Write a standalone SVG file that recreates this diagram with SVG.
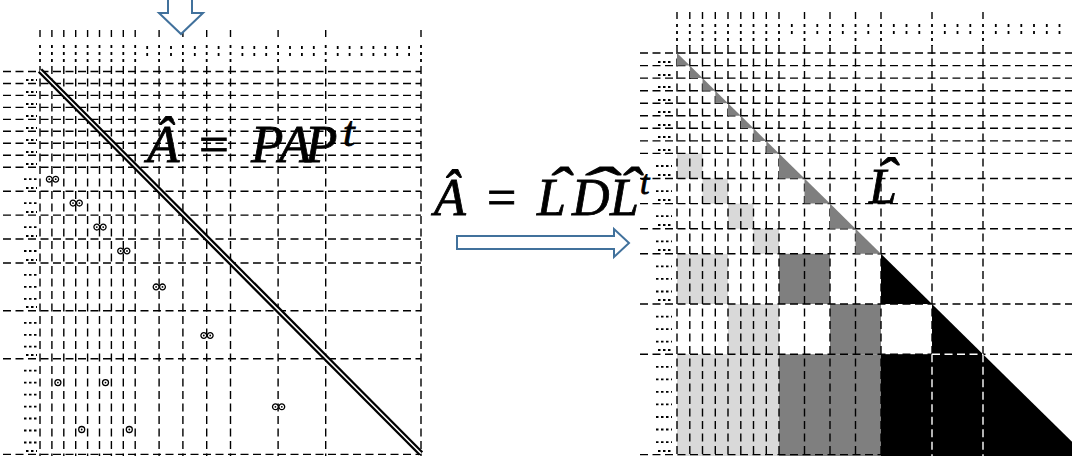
<svg xmlns="http://www.w3.org/2000/svg" width="1072" height="456" viewBox="0 0 1072 456">
<style>
.g{fill:none;stroke:#000;stroke-width:1.4;stroke-dasharray:8 4.5}
.gw{fill:none;stroke:#fff;stroke-width:1.4;stroke-dasharray:8 4.5}
.tk{fill:none;stroke:#000;stroke-width:1.4}
.dt{fill:none;stroke:#000;stroke-width:1.8;stroke-dasharray:3 4}
.dr{fill:none;stroke:#000;stroke-width:1.8;stroke-dasharray:2.5 2.5}
.m{font-family:"Liberation Serif","DejaVu Serif",serif;font-style:italic;fill:#000;stroke:#000;stroke-width:0.8}
.arr{fill:#fff;stroke:#41719c;stroke-width:2;stroke-linejoin:miter}
.lg{fill:#d9d9d9}
.dg{fill:#7f7f7f}
.bk{fill:#000}
</style>
<defs>
<g id="oo"><circle cx="-3.2" cy="0" r="2.9" fill="#fff" stroke="#000" stroke-width="1.3"/><circle cx="3.2" cy="0" r="2.9" fill="#fff" stroke="#000" stroke-width="1.3"/><circle cx="-3.2" cy="0" r="0.9"/><circle cx="3.2" cy="0" r="0.9"/></g>
<g id="o1"><circle cx="0" cy="0" r="3" fill="#fff" stroke="#000" stroke-width="1.3"/><circle cx="0" cy="0" r="0.9"/></g>
</defs>

<g id="left-matrix">
<path class="tk" d="M40 30V37M51.9 30V37M63.8 30V37M75.7 30V37M87.6 30V37M99.5 30V37M111.4 30V37M123.3 30V37M135.2 30V37M159.1 30V37M182.9 30V37M206.7 30V37M230.5 30V37M278.1 30V37M325.7 30V37M421 30V37"/>
<path class="dt" d="M40 45V63M51.9 45V63M63.8 45V63M75.7 45V63M87.6 45V63M99.5 45V63M111.4 45V63M123.3 45V63M135.2 45V63M159.1 45V63M182.9 45V63M206.7 45V63M230.5 45V63M278.1 45V63M325.7 45V63M421 45V63"/>
<path class="dt" d="M147.2 46V57M171 46V57M194.8 46V57M218.6 46V57M242.4 46V57M254.3 46V57M266.2 46V57M290 46V57M301.9 46V57M313.8 46V57M337.7 46V57M349.6 46V57M361.5 46V57M373.4 46V57M385.3 46V57M397.2 46V57M409.1 46V57"/>
<path class="dr" d="M24 179.2H37M24 203.1H37M24 227.1H37M24 251H37M24 274.9H37M24 286.9H37M24 298.9H37M24 322.8H37M24 334.8H37M24 346.7H37M24 370.7H37M24 382.6H37M24 394.6H37M24 406.6H37M24 418.5H37M24 430.5H37M24 442.5H37"/>
<path class="dr" d="M26 80H37M26 92H37M26 104H37M26 116H37M26 128H37M26 140H37M26 152H37M26 164H37M26 188H37M26 212H37M26 236H37M26 260H37M26 307H37M26 355H37M26 451H37"/>
<path class="g" d="M40 66V456M51.9 66V456M63.8 66V456M75.7 66V456M87.6 66V456M99.5 66V456M111.4 66V456M123.3 66V456M135.2 66V456M159.1 66V456M182.9 66V456M206.7 66V456M230.5 66V456M278.1 66V456M325.7 66V456M421 66V456"/>
<path class="g" d="M3 71.5H421M3 83.5H421M3 95.4H421M3 107.4H421M3 119.4H421M3 131.3H421M3 143.3H421M3 155.3H421M3 167.2H421M3 191.2H421M3 215.1H421M3 239H421M3 263H421M3 310.8H421M3 358.7H421M3 454.4H421"/>
<line x1="40" y1="70.5" x2="421" y2="453.5" stroke="#000" stroke-width="6"/>
<line x1="40" y1="70.5" x2="421" y2="453.5" stroke="#fff" stroke-width="1.5"/>
<use href="#oo" x="52.5" y="179.2"/>
<use href="#oo" x="76.2" y="203.1"/>
<use href="#oo" x="100" y="227.1"/>
<use href="#oo" x="123.8" y="251"/>
<use href="#oo" x="159.3" y="286.9"/>
<use href="#oo" x="207" y="335.5"/>
<use href="#oo" x="278.6" y="406.8"/>
<use href="#o1" x="57.9" y="382.6"/>
<use href="#o1" x="105.5" y="382.6"/>
<use href="#o1" x="81.7" y="429.5"/>
<use href="#o1" x="129.3" y="429.5"/>
</g>

<g id="label-pap">
<text class="m" font-size="53" y="162"><tspan x="147">Â</tspan><tspan x="199" font-style="normal">=</tspan><tspan x="251">P</tspan><tspan x="279">A</tspan><tspan x="305">P</tspan></text>
<text class="m" font-size="42" x="343" y="146">t</text>
</g>

<g id="right-matrix">
<rect class="lg" x="677" y="153.4" width="25.5" height="25.1"/>
<rect class="lg" x="702.5" y="178.5" width="25.5" height="25.1"/>
<rect class="lg" x="728" y="203.6" width="25.5" height="25.1"/>
<rect class="lg" x="753.5" y="228.7" width="25.5" height="25.1"/>
<rect class="lg" x="677" y="253.8" width="51" height="50.2"/>
<rect class="lg" x="728" y="304" width="51" height="50.2"/>
<rect class="lg" x="677" y="354.2" width="102" height="102"/>
<rect class="dg" x="779" y="253.8" width="51" height="50.2"/>
<rect class="dg" x="830" y="304" width="51" height="50.2"/>
<rect class="dg" x="779" y="354.2" width="102" height="102"/>
<path class="tk" d="M677 12V19M689.8 12V19M702.5 12V19M715.3 12V19M728 12V19M740.8 12V19M753.5 12V19M766.3 12V19M779 12V19M804.5 12V19M830 12V19M855.5 12V19M881 12V19M932 12V19M983 12V19"/>
<path class="dt" d="M677 24V46M689.8 24V46M702.5 24V46M715.3 24V46M728 24V46M740.8 24V46M753.5 24V46M766.3 24V46M779 24V46M804.5 24V46M830 24V46M855.5 24V46M881 24V46M932 24V46M983 24V46"/>
<path class="dt" d="M791.8 24V37M817.3 24V37M842.8 24V37M868.3 24V37M893.8 24V37M906.5 24V37M919.3 24V37M944.8 24V37M957.5 24V37M970.3 24V37M995.8 24V37M1008.5 24V37M1021.3 24V37M1034 24V37M1046.8 24V37M1059.5 24V37"/>
<path class="dr" d="M656 166H672M656 191.1H672M656 216.2H672M656 241.3H672M656 266.4H672M656 278.9H672M656 291.5H672M656 316.6H672M656 329.1H672M656 341.7H672M656 366.8H672M656 379.3H672M656 391.9H672M656 404.4H672M656 417H672M656 429.5H672M656 442.1H672"/>
<path class="dr" d="M658 62H672M658 75H672M658 87H672M658 100H672M658 112H672M658 125H672M658 137H672M658 150H672M658 175H672M658 200H672M658 225H672M658 250H672M658 300H672M658 350H672M658 451H672"/>
<path class="g" d="M677 46V456M689.8 46V456M702.5 46V456M715.3 46V456M728 46V456M740.8 46V456M753.5 46V456M766.3 46V456M779 46V456M804.5 46V456M830 46V456M855.5 46V456M881 46V456M932 46V456M983 46V456"/>
<path class="g" d="M640 53H1072M640 65.6H1072M640 78.1H1072M640 90.7H1072M640 103.2H1072M640 115.8H1072M640 128.3H1072M640 140.9H1072M640 153.4H1072M640 178.5H1072M640 203.6H1072M640 228.7H1072M640 253.8H1072M640 304H1072M640 354.2H1072M640 454.6H1072"/>
<polygon class="dg" points="677,53 677,65.6 689.8,65.6"/>
<polygon class="dg" points="689.8,65.6 689.8,78.1 702.5,78.1"/>
<polygon class="dg" points="702.5,78.1 702.5,90.7 715.3,90.7"/>
<polygon class="dg" points="715.3,90.7 715.3,103.2 728,103.2"/>
<polygon class="dg" points="728,103.2 728,115.8 740.8,115.8"/>
<polygon class="dg" points="740.8,115.8 740.8,128.3 753.5,128.3"/>
<polygon class="dg" points="753.5,128.3 753.5,140.9 766.3,140.9"/>
<polygon class="dg" points="766.3,140.9 766.3,153.4 779,153.4"/>
<polygon class="dg" points="779,153.4 779,178.5 804.5,178.5"/>
<polygon class="dg" points="804.5,178.5 804.5,203.6 830,203.6"/>
<polygon class="dg" points="830,203.6 830,228.7 855.5,228.7"/>
<polygon class="dg" points="855.5,228.7 855.5,253.8 881,253.8"/>
<polygon class="bk" points="881,253.8 881,304 932,304"/>
<polygon class="bk" points="932,304 932,354.2 983,354.2"/>
<rect class="bk" x="881" y="354.2" width="102" height="102"/>
<polygon class="bk" points="983,354.2 1085,454.6 1085,456 983,456"/>
<path class="gw" d="M932 354.2H983M932 354.2V456M983 354.2V456"/>
</g>

<g id="label-l">
<text class="m" font-size="50" x="869" y="203">L</text>
<text class="m" font-size="50" x="0" y="0" transform="translate(875 193) scale(1.3 1)">ˆ</text>
</g>

<g id="label-ldl">
<text class="m" font-size="52" y="215"><tspan x="434">Â</tspan><tspan x="487" font-style="normal">=</tspan><tspan x="537">L</tspan><tspan x="572">D</tspan><tspan x="610">L</tspan></text>
<text class="m" font-size="52" x="0" y="0" transform="translate(546 204) scale(1.4 1)">ˆ</text>
<text class="m" font-size="52" x="0" y="0" transform="translate(576 204) scale(2.3 1)">ˆ</text>
<text class="m" font-size="52" x="0" y="0" transform="translate(618 204) scale(1.3 1)">ˆ</text>
<text class="m" font-size="34" x="640" y="194">t</text>
</g>

<g id="arrows">
<polygon class="arr" points="168,-3 192,-3 192,13 203,13 181,34 159,13 168,13"/>
<polygon class="arr" points="457,236 614,236 614,229 629,243 614,257 614,249 457,249"/>
</g>
</svg>
